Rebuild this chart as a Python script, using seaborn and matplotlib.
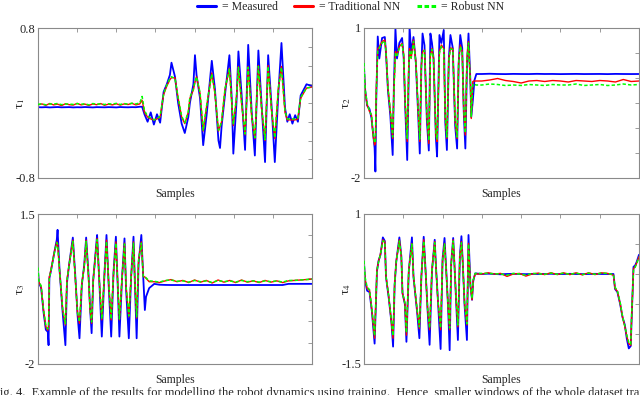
"""
Robot dynamics: measured torque vs. traditional NN vs. robust NN
"""

import numpy as np
import pandas as pd
import seaborn as sns
import matplotlib.pyplot as plt
from matplotlib.lines import Line2D

# ---- tau 1 ----
t1_samples = list(range(0, 270, 10)) + [
    266, 272, 280, 288, 296, 304, 312, 321, 329, 337,
    341, 350, 358, 367, 375, 384, 388, 397, 401, 405,
    414, 422, 431, 444, 452, 461, 465, 469, 478, 489,
    495, 499, 507, 512, 520, 529, 537, 546, 554, 563,
    571, 580, 588, 597, 605, 614, 622, 631, 637, 643,
    650, 657, 664, 671, 686, 700]
t1_measured = [
    -0.045, -0.046, -0.044, -0.047, -0.045, -0.043, -0.046, -0.045, -0.044, -0.047,
    -0.045, -0.046, -0.043, -0.045, -0.047, -0.044, -0.045, -0.046, -0.044, -0.045,
    -0.047, -0.043, -0.045, -0.046, -0.044, -0.045, -0.040] + [
    -0.04, -0.12, -0.20, -0.10, -0.23, -0.12, -0.21, 0.12, 0.20, 0.30,
    0.43, 0.28, 0.00, -0.22, -0.32, -0.15, 0.00, 0.20, 0.51, 0.30,
    0.05, -0.45, -0.12, 0.45, 0.15, -0.40, -0.48, -0.25, 0.10, 0.51,
    0.05, -0.54, 0.00, 0.55, 0.10, -0.50, 0.62, -0.10, -0.56, 0.56,
    0.00, -0.63, 0.51, -0.05, -0.63, 0.10, 0.64, -0.05, -0.20, -0.12,
    -0.22, -0.13, -0.20, 0.08, 0.20, 0.18]
t1_traditional = [
    -0.020, -0.010, -0.025, -0.005, -0.020, -0.012, -0.028, -0.008, -0.018, -0.022,
    -0.004, -0.020, -0.012, -0.026, -0.010, -0.018, -0.006, -0.024, -0.012, -0.020,
    -0.008, -0.022, -0.010, -0.016, -0.004, -0.020, -0.010] + [
    0.03, -0.10, -0.15, -0.17, -0.18, -0.17, -0.15, 0.09, 0.18, 0.25,
    0.27, 0.27, 0.05, -0.15, -0.22, -0.10, 0.05, 0.14, 0.22, 0.28,
    0.10, -0.30, -0.03, 0.32, 0.10, -0.30, -0.25, -0.20, 0.15, 0.37,
    0.00, -0.24, 0.05, 0.39, 0.00, -0.34, 0.39, -0.15, -0.38, 0.40,
    -0.05, -0.40, 0.40, -0.10, -0.38, 0.15, 0.39, -0.10, -0.18, -0.18,
    -0.18, -0.18, -0.17, 0.05, 0.16, 0.17]
t1_robust = [
    -0.015, -0.008, -0.020, -0.010, -0.012, -0.005, -0.018, -0.010, -0.012, -0.015,
    -0.006, -0.014, -0.008, -0.020, -0.006, -0.012, -0.010, -0.016, -0.008, -0.012,
    -0.004, -0.016, -0.006, -0.012, -0.002, -0.010, 0.000] + [
    0.07, -0.08, -0.14, -0.16, -0.18, -0.17, -0.14, 0.10, 0.19, 0.26,
    0.28, 0.26, 0.06, -0.14, -0.21, -0.09, 0.06, 0.15, 0.23, 0.28,
    0.11, -0.29, -0.02, 0.31, 0.11, -0.29, -0.26, -0.19, 0.16, 0.36,
    0.01, -0.23, 0.06, 0.38, 0.01, -0.33, 0.38, -0.14, -0.37, 0.39,
    -0.04, -0.39, 0.39, -0.09, -0.37, 0.16, 0.38, -0.09, -0.17, -0.17,
    -0.17, -0.17, -0.16, 0.06, 0.16, 0.17]

# ---- tau 2 ----
t2_samples = [
    0, 3, 8, 14, 19, 23, 27, 29, 31, 35,
    39, 46, 53, 56, 61, 67, 73, 76, 80, 84,
    90, 97, 101, 105, 110, 114, 116, 120, 126, 132,
    138, 142, 146, 149, 154, 160, 165, 169, 173, 177,
    183, 186, 192, 197, 203, 207, 211, 216, 220, 226,
    232, 237, 241, 245, 250, 254, 258, 262, 266, 271,
    273, 277, 281, 286] + list(range(300, 701, 20))
t2_measured = [
    0.20, -0.25, -0.55, -0.62, -0.80, -1.10, -1.40, -1.87, -0.50, 0.83,
    0.39, 0.80, 0.82, 0.50, -0.25, -0.75, -1.54, -0.20, 0.99, 0.39,
    0.70, 0.80, 0.40, -0.60, -1.64, 0.10, 1.03, 0.50, 0.82, 0.30,
    -0.75, -1.51, 0.20, 0.89, 0.65, -0.85, -1.45, 0.89, 0.70, 0.40,
    -1.20, -1.57, 0.86, 0.70, 0.96, -0.90, -1.44, 0.40, 0.86, 0.60,
    -0.95, -1.41, 0.30, 0.86, 0.60, -0.70, -1.41, 0.20, 0.89, -0.10,
    -0.78, -0.45, -0.05, 0.08] + [
    0.080, 0.085, 0.080, 0.078, 0.082, 0.080, 0.079, 0.083, 0.080, 0.081,
    0.078, 0.080, 0.082, 0.079, 0.080, 0.081, 0.078, 0.082, 0.080, 0.079, 0.080]
t2_traditional = [
    0.23, -0.27, -0.54, -0.67, -0.74, -1.14, -1.34, -1.30, -0.30, 0.59,
    0.62, 0.73, 0.76, 0.53, -0.21, -0.67, -1.21, -0.25, 0.53, 0.46,
    0.63, 0.69, 0.46, -0.54, -1.27, 0.26, 0.59, 0.39, 0.76, 0.33,
    -0.67, -1.27, 0.26, 0.53, 0.56, -0.74, -1.31, 0.46, 0.59, 0.39,
    -1.14, -1.27, 0.53, 0.66, 0.59, -0.81, -1.21, 0.39, 0.60, 0.59,
    -0.87, -1.21, 0.33, 0.66, 0.53, -0.67, -1.14, 0.39, 0.73, -0.14,
    -0.81, -0.07, -0.06, -0.06] + [
    -0.06, -0.04, -0.01, -0.05, -0.07, -0.10, -0.06, -0.05, -0.07, -0.05,
    -0.06, -0.08, -0.05, -0.06, -0.07, -0.05, -0.06, -0.08, -0.03, -0.07, -0.06]
t2_robust = [
    0.30, -0.22, -0.50, -0.66, -0.74, -1.10, -1.30, -1.28, -0.35, 0.55,
    0.60, 0.70, 0.74, 0.52, -0.20, -0.65, -1.18, -0.30, 0.50, 0.45,
    0.60, 0.67, 0.45, -0.52, -1.22, 0.22, 0.56, 0.40, 0.73, 0.32,
    -0.65, -1.22, 0.22, 0.50, 0.55, -0.72, -1.25, 0.44, 0.57, 0.38,
    -1.10, -1.22, 0.50, 0.63, 0.57, -0.78, -1.18, 0.36, 0.58, 0.57,
    -0.84, -1.18, 0.30, 0.63, 0.52, -0.65, -1.10, 0.36, 0.70, -0.15,
    -0.78, -0.12, -0.13, -0.14] + [
    -0.14, -0.12, -0.13, -0.15, -0.14, -0.15, -0.13, -0.14, -0.15, -0.13,
    -0.14, -0.14, -0.12, -0.15, -0.14, -0.13, -0.15, -0.14, -0.12, -0.14, -0.13]

# ---- tau 3 ----
t3_samples = [
    0, 2, 8, 14, 20, 25, 27, 29, 33, 42,
    48, 50, 55, 63, 70, 74, 80, 89, 95, 101,
    106, 112, 118, 123, 129, 133, 137, 141, 148, 151,
    157, 163, 170, 175, 181, 187, 193, 199, 204, 208,
    215, 221, 225, 232, 238, 244, 248, 252, 257, 264,
    269, 273, 276, 284, 297] + list(range(310, 701, 15))
t3_measured = [
    0.20, -0.10, -0.22, -0.78, -1.20, -1.25, -1.56, 0.00, 0.17, 0.62,
    0.90, 1.13, 0.20, -0.80, -1.56, -0.10, 0.35, 0.95, 0.10, -0.85,
    -1.40, -0.15, 0.30, 0.95, 0.10, -0.70, -1.28, -0.05, 0.70, 1.01,
    -0.15, -1.36, 0.15, 1.01, -0.25, -1.36, 0.15, 0.97, -0.25, -1.36,
    0.05, 0.93, -0.25, -1.40, 0.05, 0.97, -0.25, -1.40, 0.35, 1.01,
    0.00, -0.74, -0.43, -0.23, -0.13] + [
    -0.150, -0.155, -0.157, -0.157, -0.157, -0.157, -0.157, -0.157, -0.157, -0.157,
    -0.157, -0.157, -0.157, -0.157, -0.157, -0.157, -0.157, -0.157, -0.157, -0.157,
    -0.157, -0.157, -0.130, -0.130, -0.130, -0.130, -0.130]
t3_traditional = [
    0.19, -0.08, -0.20, -0.74, -1.13, -1.21, -1.15, 0.04, 0.19, 0.62,
    0.85, 0.80, 0.19, -0.74, -1.09, -0.04, 0.35, 0.89, 0.04, -0.82,
    -1.05, -0.12, 0.27, 0.89, 0.04, -0.74, -1.05, -0.04, 0.66, 0.93,
    -0.12, -0.97, 0.12, 0.89, -0.20, -0.97, 0.12, 0.85, -0.20, -0.97,
    0.04, 0.82, -0.20, -0.90, 0.04, 0.85, -0.20, -0.93, 0.43, 0.85,
    0.04, 0.03, 0.00, -0.08, -0.08] + [
    -0.10, -0.06, -0.03, -0.08, -0.05, -0.10, -0.04, -0.09, -0.05, -0.11,
    -0.04, -0.09, -0.05, -0.10, -0.04, -0.09, -0.06, -0.10, -0.05, -0.09,
    -0.06, -0.10, -0.06, -0.05, -0.04, -0.03, -0.02]
t3_robust = [
    0.25, -0.05, -0.18, -0.72, -1.10, -1.18, -1.12, 0.00, 0.17, 0.60,
    0.83, 0.80, 0.20, -0.72, -1.06, -0.06, 0.34, 0.86, 0.05, -0.80,
    -1.02, -0.13, 0.27, 0.86, 0.05, -0.72, -1.02, -0.06, 0.64, 0.90,
    -0.11, -0.95, 0.12, 0.86, -0.18, -0.95, 0.12, 0.82, -0.18, -0.95,
    0.05, 0.80, -0.18, -0.88, 0.05, 0.82, -0.18, -0.90, 0.42, 0.82,
    0.04, 0.04, 0.01, -0.06, -0.07] + [
    -0.09, -0.05, -0.04, -0.07, -0.06, -0.09, -0.05, -0.08, -0.06, -0.10,
    -0.05, -0.08, -0.06, -0.09, -0.05, -0.08, -0.06, -0.09, -0.06, -0.08,
    -0.06, -0.09, -0.05, -0.05, -0.04, -0.03, -0.02]

# ---- tau 4 ----
t4_samples = [
    0, 3, 8, 14, 20, 27, 33, 37, 42, 48,
    53, 56, 63, 70, 74, 78, 82, 90, 95, 98,
    104, 108, 114, 122, 126, 135, 141, 146, 152, 156,
    162, 167, 173, 180, 183, 188, 195, 200, 205, 210,
    214, 218, 222, 227, 231, 234, 239, 244, 248, 251,
    256, 262, 266, 271, 275, 278, 283] + list(range(300, 621, 16)) + [
    635, 639, 645, 652, 658, 664, 669, 674, 679, 681, 686, 690, 694, 700]
t4_measured = [
    0.18, -0.12, -0.28, -0.30, -0.62, -1.16, 0.05, 0.22, 0.32, 0.61,
    0.55, -0.05, -0.40, -0.82, -1.21, -0.18, 0.20, 0.61, 0.30, -0.32,
    -0.50, -1.13, 0.05, 0.61, -0.05, -0.62, -1.07, -0.05, 0.62, 0.15,
    -0.62, -1.18, 0.05, 0.57, 0.15, -0.42, -1.25, 0.25, 0.60, -0.02,
    -0.55, -1.27, 0.18, 0.60, 0.05, -0.38, -1.10, 0.30, 0.63, 0.25,
    -0.52, -1.10, 0.65, -0.20, -0.43, -0.12, 0.01] + [
    0.000, 0.005, 0.000, -0.005, 0.000, 0.003, 0.000, -0.003, 0.002, 0.000,
    0.000, 0.004, -0.002, 0.000, 0.003, 0.000, -0.002, 0.000, 0.003, 0.000, 0.000] + [
    0.00, -0.25, -0.30, -0.50, -0.72, -0.85, -1.08, -1.24, -1.20, -0.80, 0.12, 0.14, 0.20, 0.32]
t4_traditional = [
    0.18, -0.10, -0.24, -0.27, -0.60, -1.07, 0.07, 0.21, 0.34, 0.57,
    0.54, -0.04, -0.38, -0.82, -1.07, -0.16, 0.21, 0.57, 0.29, -0.32,
    -0.49, -1.02, 0.07, 0.51, -0.04, -0.60, -0.91, -0.04, 0.57, 0.12,
    -0.60, -0.93, 0.07, 0.54, 0.12, -0.43, -0.93, 0.23, 0.51, -0.04,
    -0.54, -0.93, 0.18, 0.57, 0.07, -0.38, -0.88, 0.29, 0.54, 0.23,
    -0.49, -0.85, 0.51, -0.21, -0.43, -0.10, 0.00] + [
    0.000, 0.020, 0.000, 0.010, -0.040, 0.000, 0.010, -0.035, 0.000, 0.015,
    -0.010, 0.020, -0.010, 0.020, -0.010, 0.020, -0.015, 0.020, -0.010, 0.020, 0.010] + [
    -0.02, -0.24, -0.29, -0.49, -0.71, -0.88, -1.04, -1.16, -1.19, -0.77, 0.09, 0.12, 0.18, 0.29]
t4_robust = [
    0.22, -0.06, -0.22, -0.26, -0.58, -1.03, 0.05, 0.20, 0.33, 0.55,
    0.54, -0.04, -0.37, -0.80, -1.03, -0.17, 0.20, 0.55, 0.29, -0.31,
    -0.48, -0.98, 0.06, 0.50, -0.04, -0.58, -0.88, -0.04, 0.55, 0.12,
    -0.58, -0.90, 0.06, 0.52, 0.12, -0.42, -0.90, 0.22, 0.50, -0.04,
    -0.52, -0.90, 0.17, 0.55, 0.06, -0.37, -0.85, 0.28, 0.52, 0.22,
    -0.48, -0.83, 0.50, -0.20, -0.41, -0.10, 0.01] + [
    0.010, 0.010, 0.005, 0.000, -0.020, 0.010, 0.000, -0.020, 0.010, 0.005,
    -0.005, 0.015, -0.005, 0.015, -0.005, 0.015, -0.010, 0.015, -0.005, 0.015, 0.010] + [
    -0.01, -0.22, -0.28, -0.47, -0.70, -0.87, -1.02, -1.14, -1.17, -0.72, 0.07, 0.11, 0.17, 0.28]

# y limits, tick step and end labels for each panel
y_limits = [(-0.8, 0.8), (-2, 1), (-2, 1.5), (-1.5, 1)]
y_steps = [0.2, 0.5, 0.5, 0.5]
y_end_labels = [("-0.8", "0.8"), ("-2", "1"), ("-2", "1.5"), ("-1.5", "1")]
y_names = ["τ$_1$", "τ$_2$", "τ$_3$", "τ$_4$"]

BLUE, RED, GREEN = "#0000ff", "#ff0000", "#00ff00"
GREEN_DASH = (0, (2.2, 1.4))
FRAME = "#8a8a8a"

sns.set_style("white")
plt.rcParams["font.family"] = ["Liberation Serif", "DejaVu Serif"]
plt.rcParams["mathtext.fontset"] = "stix"
plt.rcParams["axes.unicode_minus"] = False

fig = plt.figure(figsize=(6.4, 3.95), dpi=100)
W, H = 640.0, 395.0
boxes = [
    [38 / W, 1 - 178 / H, 274 / W, 150 / H],
    [364 / W, 1 - 178 / H, 275 / W, 150 / H],
    [38 / W, 1 - 364 / H, 274 / W, 150 / H],
    [364 / W, 1 - 364 / H, 275 / W, 150 / H],
]

panels = [
    (t1_samples, t1_measured, t1_traditional, t1_robust),
    (t2_samples, t2_measured, t2_traditional, t2_robust),
    (t3_samples, t3_measured, t3_traditional, t3_robust),
    (t4_samples, t4_measured, t4_traditional, t4_robust),
]

for i, (samples, meas, trad, rob) in enumerate(panels):
    ax = fig.add_axes(boxes[i])
    df = pd.DataFrame({"Samples": samples, "Measured": meas,
                       "Traditional NN": trad, "Robust NN": rob})
    sns.lineplot(data=df, x="Samples", y="Measured", ax=ax, color=BLUE,
                 lw=1.3, estimator=None, zorder=1)
    sns.lineplot(data=df, x="Samples", y="Traditional NN", ax=ax, color=RED,
                 lw=1.0, estimator=None, zorder=2)
    sns.lineplot(data=df, x="Samples", y="Robust NN", ax=ax, color=GREEN,
                 lw=1.1, linestyle=GREEN_DASH, estimator=None, zorder=3)

    lo, hi = y_limits[i]
    yt = np.arange(lo, hi + 1e-9, y_steps[i])
    ax.set_ylim(lo, hi)
    ax.set_yticks(yt)
    ax.set_yticklabels([y_end_labels[i][0]] + [""] * (len(yt) - 2) + [y_end_labels[i][1]])
    ax.set_xlim(0, 700)
    ax.set_xticks(range(0, 701, 100))
    ax.set_xticklabels([])

    ax.tick_params(direction="in", top=True, right=True, length=3, width=0.6,
                   color=FRAME, labelsize=9, pad=2)
    for sp in ax.spines.values():
        sp.set_color(FRAME)
        sp.set_linewidth(0.8)

    ax.set_xlabel("Samples", fontsize=8.5, labelpad=5)
    ax.set_ylabel(y_names[i], fontsize=9.5, rotation=90)
    ax.yaxis.set_label_coords(-0.04, 0.5)

handles = [
    Line2D([], [], color=BLUE, lw=2.2),
    Line2D([], [], color=RED, lw=2.2),
    Line2D([], [], color=GREEN, lw=2.2, linestyle=(0, (1.5, 0.8))),
]
fig.legend(handles, ["= Measured", "= Traditional NN", "= Robust NN"],
           loc="upper center", bbox_to_anchor=(0.548, 0.997), ncol=3,
           frameon=False, fontsize=8.5, handlelength=1.6, handletextpad=0.5,
           columnspacing=1.4, borderpad=0, borderaxespad=0)

# caption of the paper, cut by the lower edge of the picture as in the source
fig.text(-0.011, 1 - 387 / H,
         "Fig. 4.  Example of the results for modelling the robot dynamics using training.  "
         "Hence, smaller windows of the whole dataset trained in",
         ha="left", va="top", fontsize=9)

fig.savefig("out.png", dpi=100)
